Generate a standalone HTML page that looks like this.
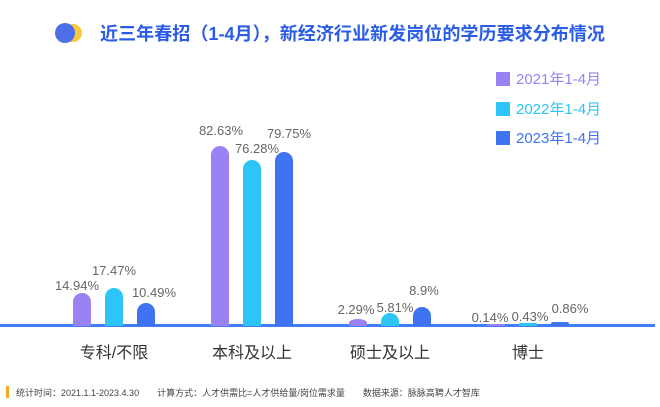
<!DOCTYPE html>
<html><head><meta charset="utf-8"><style>
body{margin:0;background:#fff;}
svg{display:block;font-family:"Liberation Sans","Noto Sans CJK SC",sans-serif;}
</style></head><body>
<svg width="660" height="407" viewBox="0 0 660 407" xmlns="http://www.w3.org/2000/svg">
<circle cx="73" cy="33" r="9" fill="#f9c93c"/>
<circle cx="65" cy="33" r="10" fill="#4f6fe8"/>
<text x="100" y="40" font-size="18" font-weight="bold" fill="#2a5ce6" textLength="505" lengthAdjust="spacingAndGlyphs">近三年春招（1-4月），新经济行业新发岗位的学历要求分布情况</text>
<g font-size="15">
<rect x="496" y="72" width="14" height="14" fill="#9a82f4"/><text x="516" y="84" fill="#9a82f4">2021年1-4月</text>
<rect x="496" y="102" width="14" height="14" fill="#2dc4f8"/><text x="516" y="114" fill="#2dc4f8">2022年1-4月</text>
<rect x="496" y="131" width="14" height="14" fill="#3f73f0"/><text x="516" y="143" fill="#3f73f0">2023年1-4月</text>
</g>
<rect x="0" y="324" width="655" height="3" fill="#3f7ef5"/>
<g font-size="16" fill="#333" text-anchor="middle">
<text x="114" y="358">专科/不限</text>
<text x="252" y="358">本科及以上</text>
<text x="390" y="358">硕士及以上</text>
<text x="528" y="358">博士</text>
</g>
<rect x="6" y="386" width="3" height="12" fill="#f5a623"/>
<text x="16" y="396" font-size="9" fill="#444">统计时间：2021.1.1-2023.4.30　　计算方式：人才供需比=人才供给量/岗位需求量　　数据来源：脉脉高聘人才智库</text>
<g font-size="13" fill="#666" text-anchor="middle">
<path d="M73,326V302a9,9 0 0 1 18,0V326Z" fill="#9a82f4"/>
<path d="M105,326V297a9,9 0 0 1 18,0V326Z" fill="#2dc4f8"/>
<path d="M137,326V312a9,9 0 0 1 18,0V326Z" fill="#3f73f0"/>
<text x="77" y="290">14.94%</text><text x="114" y="275">17.47%</text><text x="154" y="297">10.49%</text>
<path d="M211,326V155a9,9 0 0 1 18,0V326Z" fill="#9a82f4"/>
<path d="M243,326V169a9,9 0 0 1 18,0V326Z" fill="#2dc4f8"/>
<path d="M275,326V161a9,9 0 0 1 18,0V326Z" fill="#3f73f0"/>
<text x="221" y="135">82.63%</text><text x="257" y="153">76.28%</text><text x="289" y="138">79.75%</text>
<path d="M349,326V323a9,4 0 0 1 18,0V326Z" fill="#9a82f4"/>
<path d="M381,326V322a9,9 0 0 1 18,0V326Z" fill="#2dc4f8"/>
<path d="M413,326V316a9,9 0 0 1 18,0V326Z" fill="#3f73f0"/>
<text x="356" y="314">2.29%</text><text x="395" y="312">5.81%</text><text x="424" y="295">8.9%</text>
<rect x="487" y="324" width="18" height="2" rx="1" fill="#9a82f4"/>
<rect x="519" y="323" width="18" height="3" rx="1" fill="#2dc4f8"/>
<rect x="551" y="322" width="18" height="4" rx="2" fill="#3f73f0"/>
<text x="490" y="322">0.14%</text><text x="530" y="321">0.43%</text><text x="570" y="313">0.86%</text>
</g>
</svg>
</body></html>
